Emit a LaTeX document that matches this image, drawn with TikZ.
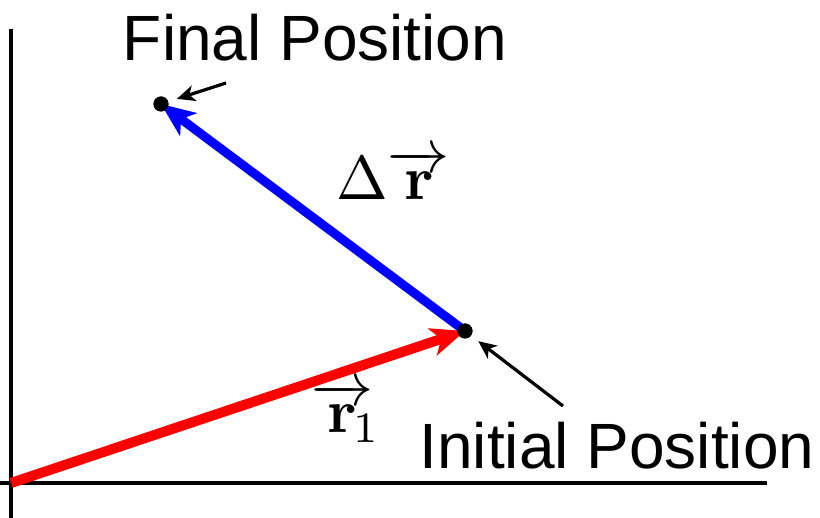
\documentclass[tikz,border=0pt]{standalone}
\usepackage{amsmath}
\usepackage{graphicx}
\usepackage[no-math]{fontspec}
\setmainfont{Liberation Sans}
\usetikzlibrary{positioning,arrows.meta}
\definecolor{vecred}{HTML}{FF0000}
\definecolor{vecblue}{HTML}{0000FF}

\tikzset{
    axis/.style={line width=4pt, line cap=butt},
    dot/.style={circle, fill=black, inner sep=0pt, minimum size=15pt},
    bigvec/.style={line width=10pt, -{Stealth[length=34pt, width=28pt, inset=9pt]}},
    pointer/.style={line width=3.2pt, -{Stealth[length=18pt, width=16pt, inset=5pt]}, shorten >=9pt},
    poslabel/.style={font=\fontsize{64}{70}\selectfont, inner sep=0pt, anchor=base},
    veclabel/.style={inner sep=0pt, anchor=base}
}
\newcommand{\biglbl}[1]{\scalebox{6.2}{#1}}

\begin{document}
\begin{tikzpicture}[x=1pt, y=-1pt]
        \useasboundingbox (0,0) rectangle (820,518);

        % axes
        \coordinate (O) at (11,483);
        \draw[axis] (11,29) -- (11,518);
        \draw[axis] (0,483) -- (767,483);

        % positions
        \node[dot] (ini) at (465,331) {};
        \node[dot] (fin) at (161,104) {};

        % vectors
        \draw[bigvec, vecred] (O) -- (ini.center);
        \draw[bigvec, vecblue, line width=9pt] (ini.center) -- (fin.center);
        \node[dot] at (ini) {};
        \node[dot] at (fin) {};

        % vector labels
        \node[veclabel] (dr) at (393,200) {\biglbl{$\Delta\overrightarrow{\mathbf{r}}$}};
        \node[veclabel] (r1) at (346,433) {\biglbl{$\overrightarrow{\mathbf{r}}\mkern-6mu_1$}};

        % position labels
        \node[poslabel] (finlbl) at (315,61) {Final Position};
        \node[poslabel] (inilbl) at (617,469) {Initial Position};
        \coordinate (finptr) at (226,83);
        \coordinate (iniptr) at (563,406);
        \draw[pointer] (finptr) -- (fin);
        \draw[pointer] (iniptr) -- (ini);
    \end{tikzpicture}
\end{document}
